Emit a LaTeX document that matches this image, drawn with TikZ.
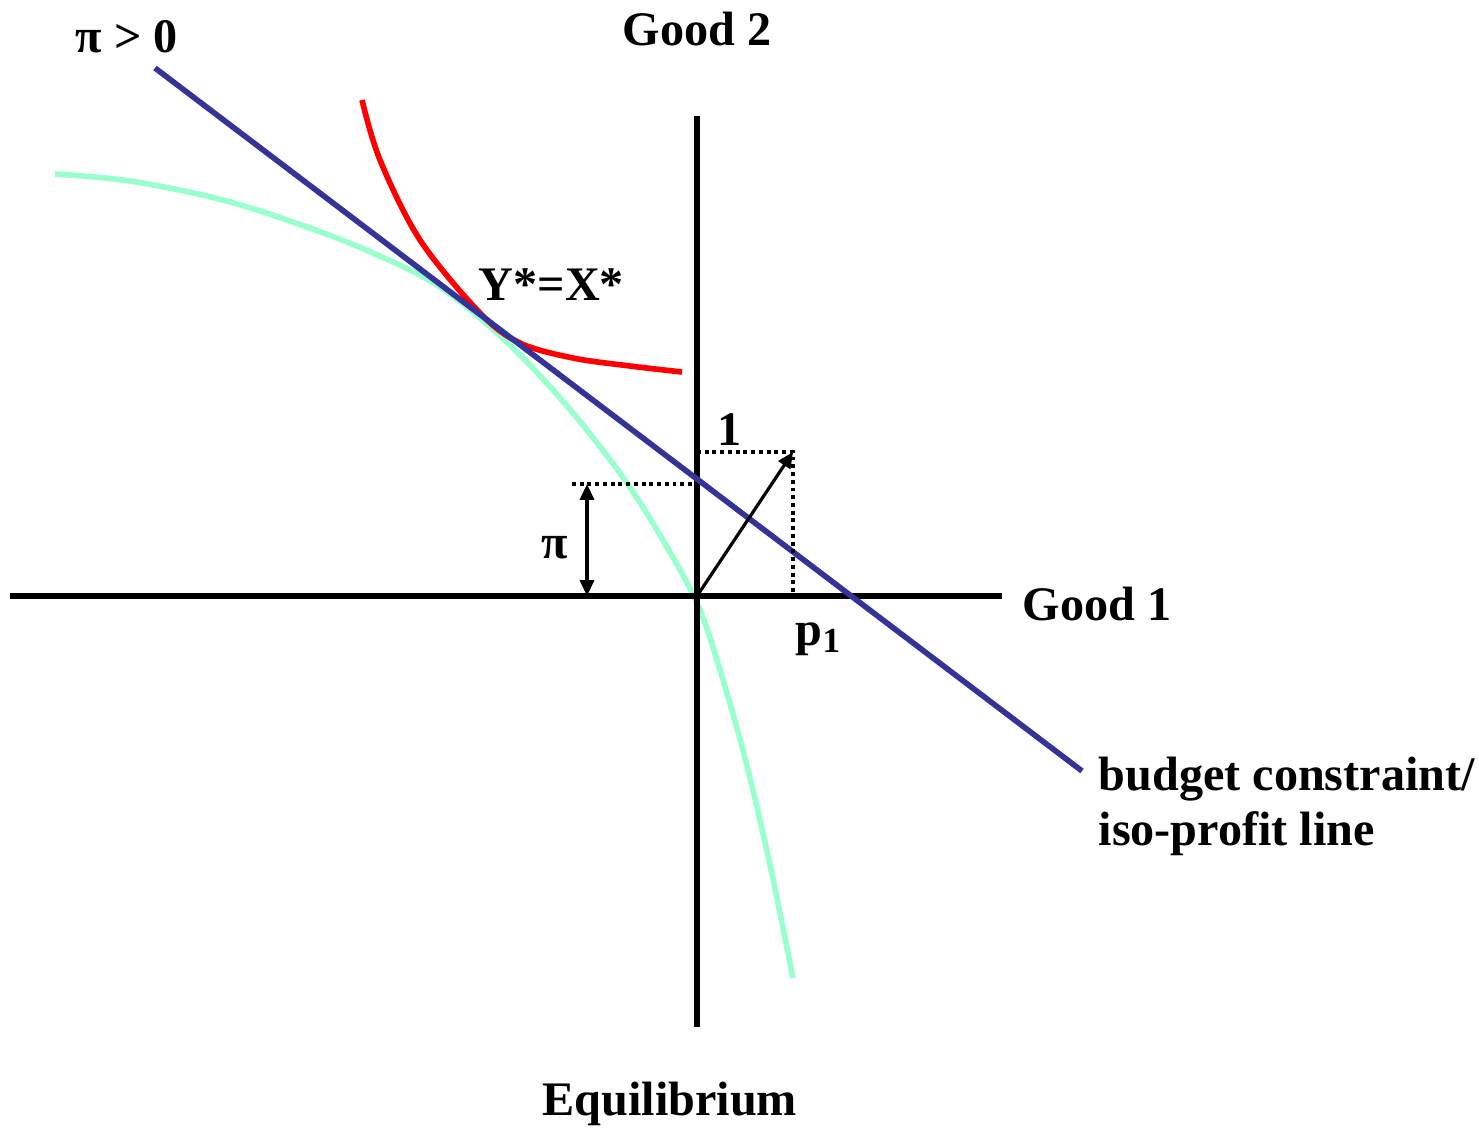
\documentclass[tikz,border=0pt]{standalone}
\usepackage{fontspec}
\setmainfont{Liberation Serif}
\usetikzlibrary{arrows.meta}
\definecolor{budget}{RGB}{51,51,153}
\definecolor{prodset}{RGB}{153,255,204}
\definecolor{indiff}{RGB}{255,0,0}
\tikzset{
  lbl/.style={inner sep=0pt, anchor=base west, font=\fontsize{13.7}{15.7}\selectfont\bfseries},
  axisline/.style={line width=1.6pt, black},
  curve/.style={line width=1.6pt},
  dotline/.style={line width=1pt, dash pattern=on 1.1pt off 1.1pt},
  tip/.style={-{Triangle[length=4.5pt,width=4pt]}, line width=0.9pt}
}
\begin{document}
\begin{tikzpicture}[x=0.01cm,y=-0.01cm]
\useasboundingbox (0,0) rectangle (1479,1127);
% coordinates
\coordinate (xl) at (10,596);
\coordinate (xr) at (1002,596);
\coordinate (yt) at (697,116);
\coordinate (yb) at (697,1027);
\coordinate (O) at (697,596);
\coordinate (bl) at (155,68);
\coordinate (br) at (1082,771);
\coordinate (pil) at (572,484);
\coordinate (pir) at (697,484);
\coordinate (ul) at (697,452);
\coordinate (ur) at (793,452);
\coordinate (ub) at (793,596);
\coordinate (at) at (587,484);
\coordinate (ab) at (587,596);
% green production set boundary
\draw[curve, prodset] plot[smooth, tension=0.55] coordinates {(55,174) (130,181) (223,200) (307,227) (373,253) (440,287) (510,345) (573,413) (627,483) (667,547) (697,603) (717,660) (745,758) (770,865) (793,978)};
% red indifference curve
\draw[curve, indiff] plot[smooth, tension=0.55] coordinates {(362,100) (380,160) (420,240) (480,313) (520,343) (573,358) (630,366) (682,372)};
% axes
\draw[axisline] (xl) -- (xr);
\draw[axisline] (yt) -- (yb);
% budget line
\draw[curve, budget] (bl) -- (br);
% dotted guides
\draw[dotline] (pil) -- (pir);
\draw[dotline] (ul) -- (ur) -- (ub);
% price vector
\draw[tip] (O) -- (ur);
% pi double arrow
\draw[{Triangle[length=4.5pt,width=4pt]}-{Triangle[length=4.5pt,width=4pt]}, line width=0.9pt] (at) -- (ab);
% labels
\node[lbl] (pigt) at (75,52) {π > 0};
\node[lbl] (g2) at (622,45) {Good 2};
\node[lbl] (yx) at (478,300) {Y*=X*};
\node[lbl] (one) at (717,445) {1};
\node[lbl] (pi) at (541,558) {π};
\node[lbl] (g1) at (1022,620) {Good 1};
\node[lbl] (p1) at (795,645) {p\raisebox{-0.35ex}{\fontsize{10}{12}\selectfont 1}};
\node[lbl] (bc1) at (1098,790) {budget constraint/};
\node[lbl] (bc2) at (1098,845) {iso-profit line};
\node[lbl] (eq) at (542,1115) {Equilibrium};
\end{tikzpicture}
\end{document}
